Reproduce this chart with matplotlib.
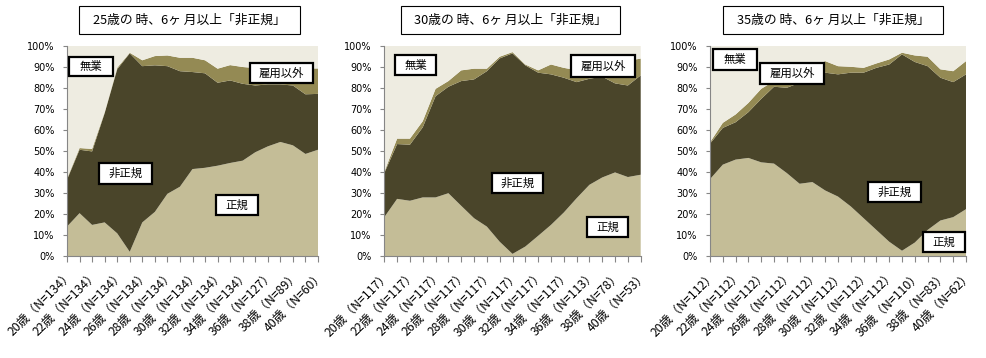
import matplotlib
matplotlib.use("Agg")
import matplotlib.pyplot as plt
from matplotlib.patches import Rectangle
import numpy as np

plt.rcParams['font.family'] = ['Noto Sans CJK JP', 'DejaVu Sans']

ages = list(range(20, 41))
titles = ["25歳の 時、6ヶ 月以上「非正規」", "30歳の 時、6ヶ 月以上「非正規」", "35歳の 時、6ヶ 月以上「非正規」"]
series_names = ["正規", "非正規", "雇用以外", "無業"]

n1 = [134, 134, 134, 134, 134, 134, 134, 134, 127, 89, 60]
n2 = [117, 117, 117, 117, 117, 117, 117, 117, 113, 78, 53]
n3 = [112, 112, 112, 112, 112, 112, 112, 112, 110, 83, 62]

seiki1 = [14, 20.4, 14.8, 16, 10.8, 2, 16, 21, 29.6, 33, 41.4, 42, 43, 44.3, 45.4, 49.4, 52.2, 54.3, 52.7, 48.6, 50.6]
hiseiki1 = [22.3, 30.2, 35.0, 52.0, 78.1, 94.5, 74.4, 69.8, 60.8, 55.0, 46.2, 45.0, 39.5, 39.3, 36.6, 31.8, 29.5, 27.4, 28.5, 28.4, 26.6]
koyou1 = [0.5, 0.8, 1.2, 0.5, 0.7, 0.3, 2.8, 4.4, 5.1, 6.4, 6.8, 6.2, 6.7, 7.3, 8.0, 8.3, 7.8, 7.8, 8.3, 12.3, 12.1]

seiki2 = [18.5, 27.2, 26.3, 27.9, 27.9, 29.9, 23.9, 18, 14, 6.8, 1, 4.5, 9.6, 14.8, 20.7, 27.5, 33.9, 37.4, 39.8, 37.6, 38.7]
hiseiki2 = [21.0, 26.1, 26.7, 33.4, 48.2, 50.7, 59.4, 66.1, 74.0, 87.3, 95.5, 86.3, 77.7, 71.7, 64.2, 55.3, 50.5, 48.0, 42.4, 43.6, 47.3]
koyou2 = [0.5, 2.6, 2.9, 2.9, 3.5, 2.7, 5.1, 5.1, 1.2, 0.8, 0.6, 0.4, 1.1, 4.7, 4.7, 5.7, 3.1, 2.1, 6.3, 11.8, 8.0]

seiki3 = [36.6, 43.5, 45.9, 46.7, 44.6, 44, 39.5, 34.4, 35.2, 31.2, 28.3, 23.6, 18, 12.4, 6.8, 2.5, 6.4, 12.4, 16.9, 18.5, 22.3]
hiseiki3 = [16.9, 17.5, 17.8, 21.8, 30.2, 36.6, 40.6, 48.1, 47.8, 56.1, 58.2, 63.7, 69.3, 77.2, 84.4, 93.5, 86.0, 78.0, 68.0, 64.3, 64.2]
koyou3 = [0.6, 2.4, 3.7, 4.4, 4.8, 2.7, 3.9, 3.5, 7.5, 5.5, 3.9, 2.8, 2.3, 2.1, 2.4, 0.8, 3.1, 4.5, 4.0, 5.2, 6.3]

colors = ["#C4BD97", "#4A452A", "#948A54", "#EEECE1"]

panels = [
    (titles[0], n1, seiki1, hiseiki1, koyou1),
    (titles[1], n2, seiki2, hiseiki2, koyou2),
    (titles[2], n3, seiki3, hiseiki3, koyou3),
]

# layout (figure fractions)
W, H = 987, 358
axes_px = [(67, 318), (384.3, 640.7), (710, 966)]
title_px = [(79, 300), (401, 620), (723, 943)]
# label boxes: (name, x0, x1, y0, y1) in data units
boxes = [
    [("無業", 0.16, 3.67, 85.7, 94.8), ("非正規", 2.55, 6.77, 34.3, 44.3),
     ("正規", 11.87, 15.22, 19.5, 29.0), ("雇用以外", 14.58, 19.6, 82.4, 91.9)],
    [("無業", 0.83, 4.03, 86.2, 95.7), ("非正規", 8.4, 12.37, 30.0, 39.5),
     ("正規", 15.8, 19.0, 9.0, 18.6), ("雇用以外", 14.56, 19.55, 85.2, 95.7)],
    [("無業", 0.23, 3.67, 88.6, 98.6), ("雇用以外", 3.9, 8.9, 81.9, 91.9),
     ("非正規", 12.34, 16.48, 25.7, 35.2), ("正規", 16.64, 19.9, 1.9, 11.4)],
]

fig = plt.figure(figsize=(W / 100, H / 100), dpi=100)
x = np.arange(len(ages))
gray = "#868686"

for i, (title, ns, s, h, k) in enumerate(panels):
    l, r = axes_px[i]
    ax = fig.add_axes([l / W, 1 - 256 / H, (r - l) / W, 210 / H])
    s = np.array(s); h = np.array(h); k = np.array(k)
    m = 100 - s - h - k
    ax.stackplot(x, s, h, k, m, colors=colors, labels=series_names, linewidth=0)
    ax.set_xlim(0, 20)
    ax.set_ylim(0, 100)
    ax.set_yticks(np.arange(0, 101, 10))
    ax.set_yticklabels([f"{v}%" for v in range(0, 101, 10)], fontsize=7,
                       family="DejaVu Sans")
    ax.set_xticks(x)
    lbls = []
    j = 0
    for idx, a in enumerate(ages):
        if idx % 2 == 0:
            lbls.append(f"{a}歳（N={ns[j]}）")
            j += 1
        else:
            lbls.append("")
    ax.set_xticklabels(lbls, rotation=45, ha="right", va="top",
                       rotation_mode="anchor", fontsize=8.8)
    ax.tick_params(axis="x", length=4, color=gray, pad=5)
    ax.tick_params(axis="y", length=3, color=gray, pad=6)
    for sp in ["top", "right"]:
        ax.spines[sp].set_visible(False)
    for sp in ["left", "bottom"]:
        ax.spines[sp].set_color(gray)
        ax.spines[sp].set_linewidth(0.8)

    for name, x0, x1, y0, y1 in boxes[i]:
        ax.add_patch(Rectangle((x0, y0), x1 - x0, y1 - y0, facecolor="white",
                               edgecolor="black", linewidth=1.6, zorder=5,
                               clip_on=False))
        ax.text((x0 + x1) / 2, (y0 + y1) / 2, name, ha="center", va="center",
                fontsize=8.2, zorder=6)

    tl, tr = title_px[i]
    fig.patches.append(Rectangle((tl / W, 1 - 34 / H), (tr - tl) / W, 28 / H,
                                 transform=fig.transFigure, facecolor="white",
                                 edgecolor="black", linewidth=0.8))
    fig.text((tl + tr) / 2 / W, 1 - 20 / H, title, ha="center", va="center",
             fontsize=9.2)

fig.savefig("out.png", dpi=100)
